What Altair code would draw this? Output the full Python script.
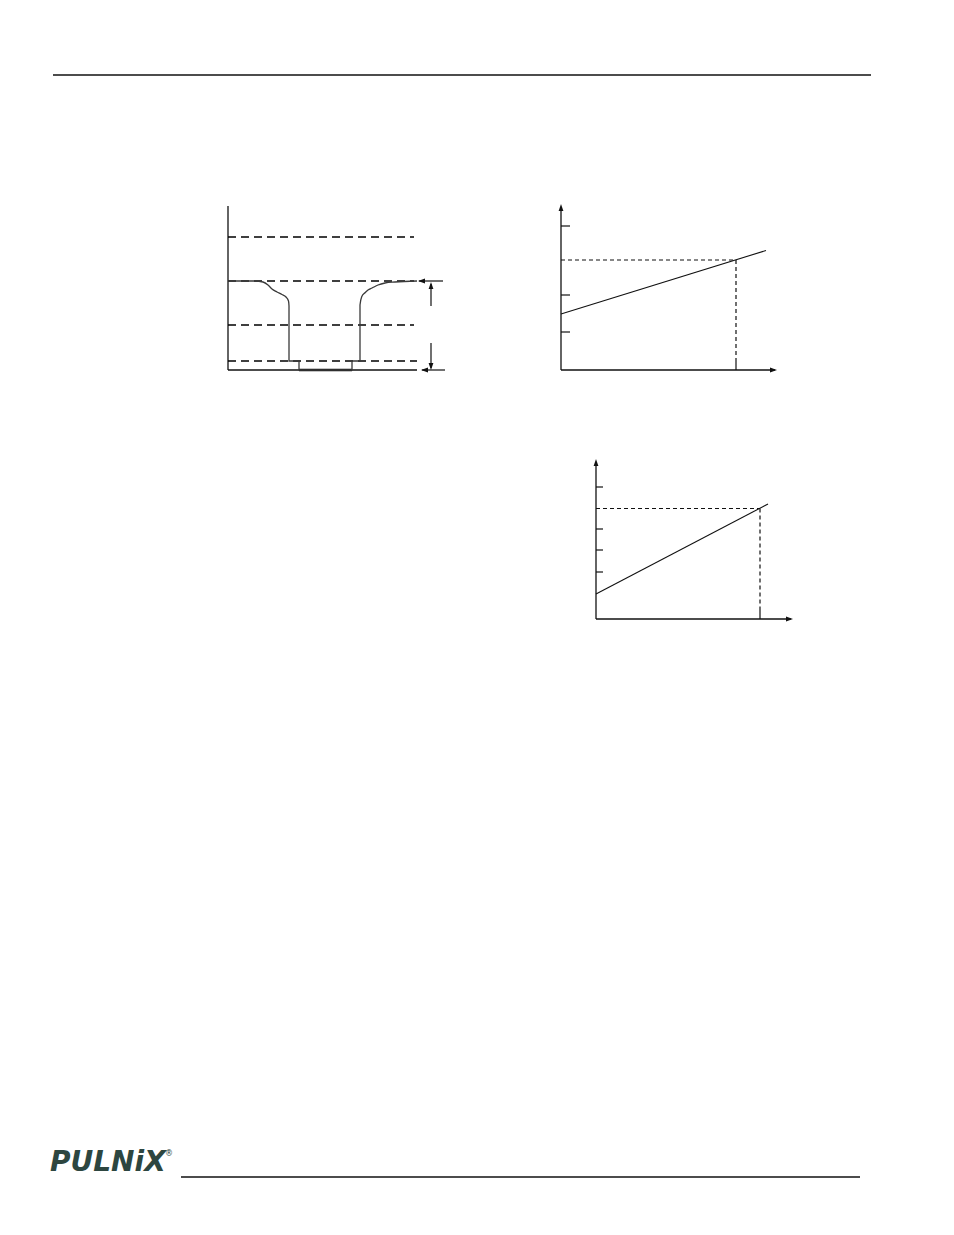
import altair as alt
import pandas as pd

# ---------------- data (page pixel units) ----------------
# page rules
page_rule_x1 = [53, 181]
page_rule_x2 = [871, 860]
page_rule_y = [75, 1177]

# Figure 1: video waveform with level lines
fig1_levels_y = [237, 281, 325, 361]
fig1_levels_x2 = [414, 414, 414, 417]
wave_x = [228, 240, 255, 263, 268, 272, 277, 282, 286, 288.5, 289, 289, 299, 299,
          352, 352, 360, 360, 361.7, 365, 368, 372, 378, 385, 395, 417]
wave_y = [281, 281, 281, 282, 285, 289, 292, 294.5, 297, 301, 306, 361, 361, 370,
          370, 361, 361, 305, 296.7, 292.7, 290, 288, 285, 283, 282, 281]

# Figure 2: linear characteristic
fig2_ticks_y = [226, 295, 332]
fig2_line_x = [561, 766]
fig2_line_y = [314, 250.5]
fig2_mark_x = 736
fig2_mark_y = 260

# Figure 3: linear characteristic
fig3_ticks_y = [487, 529, 550, 572]
fig3_line_x = [596, 768]
fig3_line_y = [594, 504]
fig3_mark_x = 760
fig3_mark_y = 508.5

# ---------------- build tables ----------------
solid = []
for a, b, y in zip(page_rule_x1, page_rule_x2, page_rule_y):
    solid.append((a, y, b, y, 1.6))
# fig 1 axes and arrows
solid += [(228, 206, 228, 370, 1.3), (228, 370, 417, 370, 1.3),
          (299, 370, 352, 370, 2.6),
          (419, 281, 443, 281, 1.2), (422, 370, 445, 370, 1.2),
          (431, 284, 431, 306, 1.2), (431, 343, 431, 368, 1.2)]
# fig 2
solid += [(561, 207, 561, 370, 1.3), (561, 370, 775, 370, 1.3)]
solid += [(561, t, 570, t, 1.2) for t in fig2_ticks_y]
solid += [(fig2_line_x[0], fig2_line_y[0], fig2_line_x[1], fig2_line_y[1], 1.1),
          (fig2_mark_x, 358, fig2_mark_x, 370, 1.2)]
# fig 3
solid += [(596, 462, 596, 619, 1.3), (596, 619, 791, 619, 1.3)]
solid += [(596, t, 603, t, 1.2) for t in fig3_ticks_y]
solid += [(fig3_line_x[0], fig3_line_y[0], fig3_line_x[1], fig3_line_y[1], 1.1),
          (fig3_mark_x, 607, fig3_mark_x, 619, 1.2)]
solid_df = pd.DataFrame(solid, columns=["x", "y", "x2", "y2", "w"])

long_dash_df = pd.DataFrame({
    "x": [228] * 4, "y": fig1_levels_y, "x2": fig1_levels_x2, "y2": fig1_levels_y})

short_dash_df = pd.DataFrame({
    "x": [561, fig2_mark_x, 596, fig3_mark_x],
    "y": [fig2_mark_y, fig2_mark_y, fig3_mark_y, fig3_mark_y],
    "x2": [fig2_mark_x, fig2_mark_x, fig3_mark_x, fig3_mark_x],
    "y2": [fig2_mark_y, 358, fig3_mark_y, 607]})

wave_df = pd.DataFrame({"x": wave_x, "y": wave_y, "o": range(len(wave_x))})

arrows_df = pd.DataFrame({
    "x": [561, 777, 596, 793, 418, 421, 431, 431],
    "y": [204, 370, 459, 619, 281, 370, 282, 370],
    "angle": [0, 90, 0, 90, 270, 270, 0, 180]})

logo_df = pd.DataFrame({"x": [50], "y": [1171], "t": ["PULNiX"]})
reg_df = pd.DataFrame({"x": [165], "y": [1156], "t": ["®"]})

# ---------------- chart ----------------
W, H = 938, 1215
xs = alt.Scale(domain=[8, 8 + W], nice=False, zero=False)
ys = alt.Scale(domain=[8, 8 + H], nice=False, zero=False, reverse=True)
X = lambda f="x": alt.X(f"{f}:Q", scale=xs, axis=None)
Y = lambda f="y": alt.Y(f"{f}:Q", scale=ys, axis=None)

solid_l = alt.Chart(solid_df).mark_rule(color="#111").encode(
    x=X(), y=Y(), x2="x2:Q", y2="y2:Q",
    strokeWidth=alt.StrokeWidth("w:Q", scale=None))

long_l = alt.Chart(long_dash_df).mark_rule(
    color="#000", strokeWidth=1.4, strokeDash=[8, 5]).encode(
    x=X(), y=Y(), x2="x2:Q", y2="y2:Q")

short_l = alt.Chart(short_dash_df).mark_rule(
    color="#111", strokeWidth=1.2, strokeDash=[4, 3]).encode(
    x=X(), y=Y(), x2="x2:Q", y2="y2:Q")

wave_l = alt.Chart(wave_df).mark_line(
    color="#3a3a3a", strokeWidth=1.3, interpolate="monotone").encode(
    x=X(), y=Y(), order="o:Q")

arrow_l = alt.Chart(arrows_df).mark_point(
    shape="M0,0L0.6,1.75L-0.6,1.75Z", filled=True, size=64, opacity=1,
    color="#111").encode(
    x=X(), y=Y(), angle=alt.Angle("angle:Q", scale=None))

logo_l = alt.Chart(logo_df).mark_text(
    font="DejaVu Sans", fontSize=28, fontWeight="bold", fontStyle="italic",
    align="left", baseline="alphabetic", color="#2d4640").encode(
    x=X(), y=Y(), text="t:N")

reg_l = alt.Chart(reg_df).mark_text(
    font="DejaVu Sans", fontSize=8, align="left", baseline="alphabetic",
    color="#2d4640").encode(x=X(), y=Y(), text="t:N")

chart = alt.layer(solid_l, long_l, short_l, wave_l, arrow_l, logo_l, reg_l).properties(
    width=W, height=H, autosize=alt.AutoSizeParams(type="none"), padding=0
).configure_view(stroke=None)

chart.save("out.html", embed_options={"renderer": "svg", "actions": False})
